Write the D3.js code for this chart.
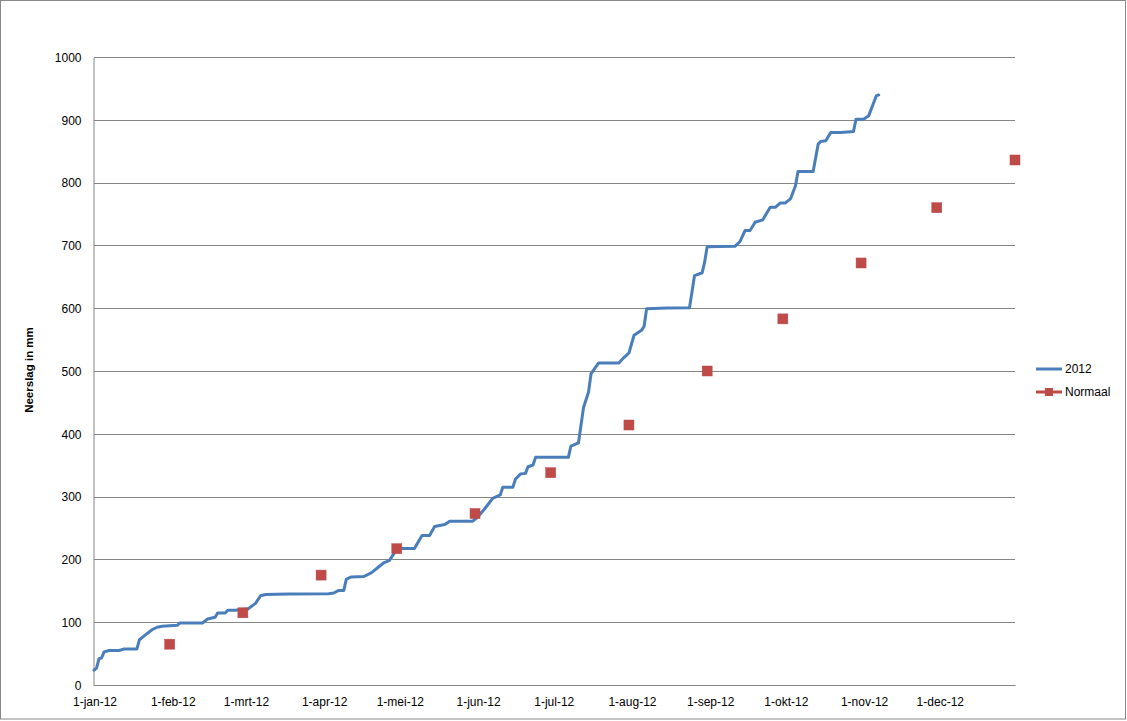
<!DOCTYPE html>
<html>
<head>
<meta charset="utf-8">
<script src="https://cdn.jsdelivr.net/npm/d3@7"></script>
<style>
  body { margin: 0; background: #fff; }
  svg { display: block; font-family: "Liberation Sans", Arial, sans-serif; }
</style>
</head>
<body>
<svg id="chart" width="1127" height="721"></svg>
<script>
// cumulative rain 2012: day of year (0 = 1 jan) and mm
const rainDays = [0, 1, 2, 3, 4, 6, 10, 12, 17, 18, 20, 23, 25, 27, 33, 34, 43, 45, 48, 49, 52, 53, 56, 61, 64, 66, 68,
  77, 93, 95, 97, 99, 100, 102, 107, 110, 113, 115, 117, 119, 120, 127, 130, 133, 135, 139, 141, 150, 152, 155,
  158, 161, 162, 166, 167, 169, 171, 172, 174, 175, 188, 189, 192, 194, 196, 197, 200, 208, 210, 212, 214, 217,
  218, 219, 227, 236, 238, 241, 242, 243, 254, 256, 258, 260, 262, 265, 268, 270, 272, 274, 276, 278, 279, 285,
  287, 288, 290, 292, 296, 301, 302, 305, 307, 310, 311];
const rainTotals = [23.5, 27, 42, 43, 52.7, 55, 55, 57.5, 57.5, 72, 78.6, 88, 92, 93.4, 95, 98.8, 98.8, 105, 108, 114.7,
  114.7, 119, 119, 121, 130, 142, 144, 145, 145.4, 146.5, 150.6, 150.6, 168.7, 172, 172.8, 179, 188.7, 195, 198,
  210, 217.3, 217.3, 238, 238, 252.3, 255.5, 260.8, 260.8, 267, 281.5, 297.3, 302.6, 314.8, 314.8, 327.5, 336,
  337, 347.6, 350.3, 362.5, 362.5, 380.5, 385.7, 442, 466.7, 496, 512.8, 512.8, 521.4, 528.7, 556.8, 564.7, 571,
  599, 600.2, 600.8, 652, 656.4, 673.3, 698, 698.6, 706, 723.6, 723.6, 736.8, 740.6, 760.6, 760.6, 767.6, 767.6,
  774, 795, 817.8, 817.8, 861.3, 865.5, 866.6, 879.8, 879.8, 881.4, 901, 901, 906.3, 938, 939.6];

// long-term normal, cumulative at month end
const normaalDates = ["2012-01-31", "2012-02-29", "2012-03-31", "2012-04-30", "2012-05-31", "2012-06-30",
  "2012-07-31", "2012-08-31", "2012-09-30", "2012-10-31", "2012-11-30", "2012-12-31"];
const normaalValues = [65, 115, 175, 217, 273, 338, 414, 500, 583, 672, 760, 836];

const monthLabels = ["1-jan-12", "1-feb-12", "1-mrt-12", "1-apr-12", "1-mei-12", "1-jun-12",
  "1-jul-12", "1-aug-12", "1-sep-12", "1-okt-12", "1-nov-12", "1-dec-12"];
const yTicks = [0, 100, 200, 300, 400, 500, 600, 700, 800, 900, 1000];

const svg = d3.select("#chart");
const parse = d3.timeParse("%Y-%m-%d");
const start = new Date(2012, 0, 1);

const x = d3.scaleTime()
  .domain([start, new Date(2012, 11, 31)])
  .range([94, 1015]);
const y = d3.scaleLinear().domain([0, 1000]).range([685, 57]);

// chart border
svg.append("rect")
  .attr("x", 0.5).attr("y", 0.5)
  .attr("width", 1125).attr("height", 718.5)
  .attr("fill", "none").attr("stroke", "#888");

// gridlines
svg.append("g")
  .selectAll("line")
  .data(yTicks.filter(d => d > 0))
  .enter()
  .append("line")
  .attr("x1", x.range()[0]).attr("x2", x.range()[1])
  .attr("y1", d => Math.round(y(d)) + 0.5)
  .attr("y2", d => Math.round(y(d)) + 0.5)
  .attr("stroke", "#868686");

// axes
const yAxis = svg.append("g")
  .attr("transform", "translate(93.5,0.5)")
  .call(d3.axisLeft(y).tickValues(yTicks).tickSize(0).tickPadding(12).tickFormat(d3.format("d")));
const months = monthLabels.map((d, i) => new Date(2012, i, 1));
const xAxis = svg.append("g")
  .attr("transform", "translate(0.5," + (Math.round(y(0)) + 0.5) + ")")
  .call(d3.axisBottom(x).tickValues(months).tickSize(0).tickPadding(12)
    .tickFormat((d, i) => monthLabels[i]));
[yAxis, xAxis].forEach(function(a) {
  a.select(".domain").attr("stroke", "#868686");
  a.selectAll("text").attr("font-size", 12).attr("fill", "#000");
});
xAxis.select(".domain").attr("d", "M" + (x.range()[0] - 0.5) + ",0H" + x.range()[1]);

svg.append("text")
  .attr("transform", "translate(33,370) rotate(-90)")
  .attr("text-anchor", "middle")
  .attr("font-size", 11.5)
  .attr("font-weight", "bold")
  .text("Neerslag in mm");

// 2012 line
const rain = rainDays.map((d, i) => ({ date: d3.timeDay.offset(start, d), value: rainTotals[i] }));
const line = d3.line()
  .x(d => x(d.date))
  .y(d => y(d.value));
svg.append("path")
  .datum(rain)
  .attr("d", line)
  .attr("fill", "none")
  .attr("stroke", "#4A7EBB")
  .attr("stroke-width", 3)
  .attr("stroke-linejoin", "round")
  .attr("stroke-linecap", "round");

// normaal markers
const sq = 10;
svg.append("g")
  .selectAll("rect")
  .data(normaalDates.map((d, i) => ({ date: parse(d), value: normaalValues[i] })))
  .enter()
  .append("rect")
  .attr("x", d => x(d.date) - sq / 2)
  .attr("y", d => y(d.value) - sq / 2)
  .attr("width", sq).attr("height", sq)
  .attr("fill", "#BE4B48")
  .attr("stroke", "#B9494A")
  .attr("stroke-width", 0.5);

// legend
const legend = svg.append("g").attr("font-size", 12);
legend.append("line")
  .attr("x1", 1036).attr("x2", 1062).attr("y1", 369).attr("y2", 369)
  .attr("stroke", "#4A7EBB").attr("stroke-width", 3);
legend.append("text").attr("x", 1065).attr("y", 373).text("2012");
legend.append("line")
  .attr("x1", 1036).attr("x2", 1062).attr("y1", 392).attr("y2", 392)
  .attr("stroke", "#BE4B48").attr("stroke-width", 3);
legend.append("rect")
  .attr("x", 1045).attr("y", 388).attr("width", 8).attr("height", 8)
  .attr("fill", "#BE4B48");
legend.append("text").attr("x", 1065).attr("y", 396).text("Normaal");
</script>
</body>
</html>
